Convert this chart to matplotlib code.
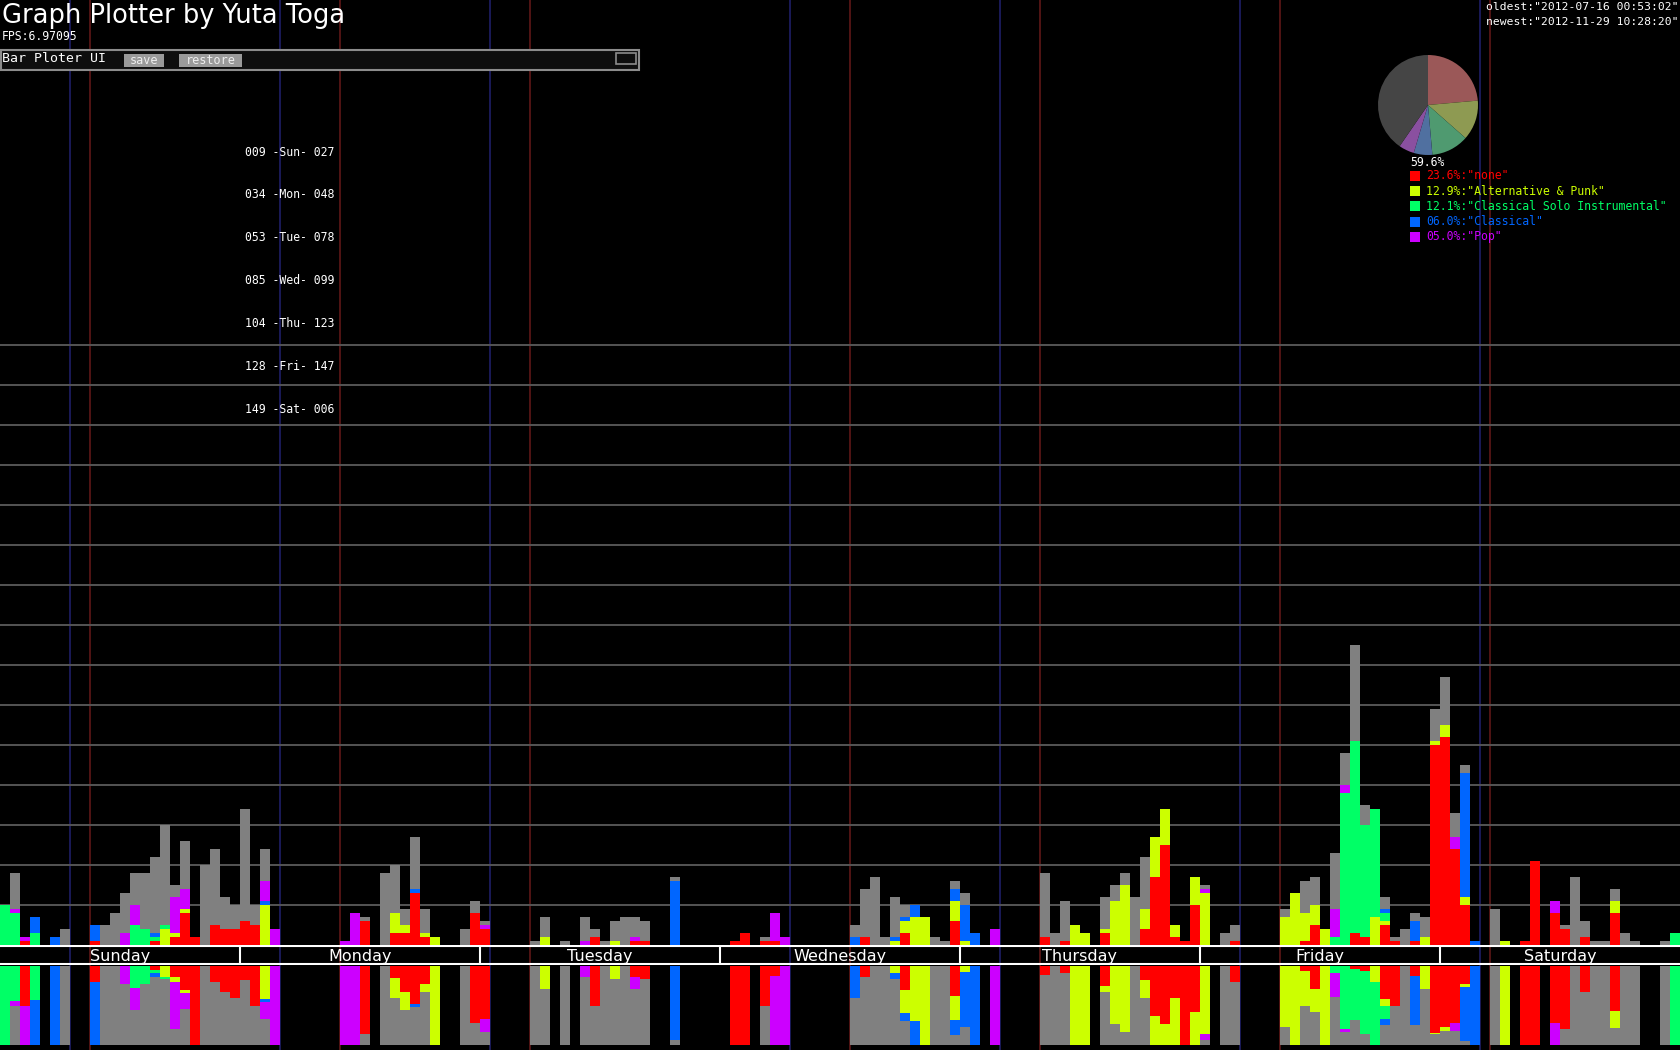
import matplotlib
matplotlib.use('Agg')
from matplotlib import pyplot
from matplotlib.patches import Rectangle
import numpy as np

W, H, DPI = 1680, 1050, 100

genres = ['none', 'Alternative & Punk', 'Classical Solo Instrumental', 'Classical', 'Pop']
genre_colors = ['#ff0000', '#ccff00', '#00ff66', '#0066ff', '#cc00ff']
other_color = '#808080'

pie_shares = [23.6, 12.9, 12.1, 6.0, 5.0, 40.4]
pie_colors = ['#9b5858', '#8e9a52', '#4f9a70', '#5070a0', '#8a50a0', '#454545']

days = ['Sunday', 'Monday', 'Tuesday', 'Wednesday', 'Thursday', 'Friday', 'Saturday']
day_abbr = ['Sun', 'Mon', 'Tue', 'Wed', 'Thu', 'Fri', 'Sat']
day_first = [9, 34, 53, 85, 104, 128, 149]
day_last = [27, 48, 78, 99, 123, 147, 6]

oldest = '2012-07-16 00:53:02'
newest = '2012-11-29 10:28:20'
fps = '6.97095'

# play counts per hour of the week, one row of 24 per day
none_counts = [
    [0, 0, 1, 0, 0, 0, 0, 0, 0, 1, 0, 0, 0, 0, 0, 1, 0, 2, 8, 2, 0, 5, 4, 4],
    [6, 5, 0, 0, 0, 0, 0, 0, 0, 0, 0, 0, 6, 0, 0, 3, 3, 13, 2, 0, 0, 0, 0, 8],
    [4, 0, 0, 0, 0, 0, 0, 0, 0, 0, 0, 2, 0, 0, 0, 1, 1, 0, 0, 0, 0, 0, 0, 0],
    [0, 1, 3, 0, 1, 1, 0, 0, 0, 0, 0, 0, 0, 0, 2, 0, 0, 0, 3, 0, 0, 0, 0, 6],
    [0, 0, 0, 0, 0, 0, 0, 0, 2, 0, 1, 0, 0, 0, 3, 0, 0, 0, 4, 17, 25, 2, 1, 10],
    [0, 0, 0, 1, 0, 0, 0, 0, 0, 0, 1, 5, 0, 0, 0, 3, 2, 0, 5, 1, 0, 1, 0, 50],
    [52, 24, 10, 0, 0, 0, 0, 0, 1, 21, 0, 8, 4, 0, 2, 0, 0, 8, 0, 0, 0, 0, 0, 0],
]
alt_counts = [
    [0, 0, 0, 0, 0, 0, 0, 0, 0, 0, 0, 0, 0, 0, 0, 0, 4, 1, 1, 0, 0, 0, 0, 0],
    [0, 0, 10, 0, 0, 0, 0, 0, 0, 0, 0, 0, 0, 0, 0, 5, 2, 0, 1, 2, 0, 0, 0, 0],
    [0, 0, 0, 0, 0, 0, 2, 0, 0, 0, 0, 0, 0, 1, 0, 0, 0, 0, 0, 0, 0, 0, 0, 0],
    [0, 0, 0, 0, 0, 0, 0, 0, 0, 0, 0, 0, 0, 0, 0, 0, 0, 1, 3, 7, 7, 0, 0, 5],
    [1, 0, 0, 0, 0, 0, 0, 0, 0, 0, 0, 5, 3, 0, 1, 11, 15, 0, 5, 10, 9, 3, 0, 7],
    [13, 0, 0, 0, 0, 0, 0, 0, 7, 13, 7, 5, 4, 0, 0, 0, 0, 7, 1, 0, 0, 0, 2, 1],
    [3, 0, 2, 0, 0, 0, 1, 0, 0, 0, 0, 0, 0, 0, 0, 0, 0, 3, 0, 0, 0, 0, 0, 0],
]
solo_counts = [
    [10, 8, 0, 3, 0, 0, 0, 0, 0, 0, 0, 0, 0, 5, 4, 1, 1, 0, 0, 0, 0, 0, 0, 0],
    [0] * 24,
    [0] * 24,
    [0] * 24,
    [0] * 24,
    [0, 0, 0, 0, 0, 0, 0, 0, 0, 0, 0, 0, 0, 2, 38, 48, 28, 27, 2, 0, 0, 0, 0, 0],
    [0, 0, 0, 0, 0, 0, 0, 0, 0, 0, 0, 0, 0, 0, 0, 0, 0, 0, 0, 0, 0, 0, 0, 3],
]
classical_counts = [
    [0, 0, 0, 4, 0, 2, 0, 0, 0, 4, 0, 0, 0, 0, 0, 1, 0, 0, 0, 0, 0, 0, 0, 0],
    [0, 0, 1, 0, 0, 0, 0, 0, 0, 0, 0, 0, 0, 0, 0, 0, 0, 1, 0, 0, 0, 0, 0, 0],
    [0, 0, 0, 0, 0, 0, 0, 0, 0, 0, 0, 0, 0, 0, 0, 0, 0, 0, 0, 16, 0, 0, 0, 0],
    [0, 0, 0, 0, 0, 0, 0, 0, 0, 0, 0, 0, 0, 2, 0, 0, 0, 1, 1, 3, 0, 0, 0, 3],
    [9, 3, 0, 0, 0, 0, 0, 0, 0, 0, 0, 0, 0, 0, 0, 0, 0, 0, 0, 0, 0, 0, 0, 0],
    [0, 0, 0, 0, 0, 0, 0, 0, 0, 0, 0, 0, 0, 0, 0, 0, 0, 0, 1, 0, 0, 5, 0, 0],
    [0, 0, 31, 1, 0, 0, 0, 0, 0, 0, 0, 0, 0, 0, 0, 0, 0, 0, 0, 0, 0, 0, 0, 0],
]
pop_counts = [
    [0, 1, 1, 0, 0, 0, 0, 0, 0, 0, 0, 0, 3, 5, 0, 0, 0, 9, 5, 0, 0, 0, 0, 0],
    [0, 0, 5, 4, 0, 0, 0, 0, 0, 0, 1, 8, 0, 0, 0, 0, 0, 0, 0, 0, 0, 0, 0, 0],
    [1, 0, 0, 0, 0, 0, 0, 0, 0, 0, 1, 0, 0, 0, 0, 1, 0, 0, 0, 0, 0, 0, 0, 0],
    [0, 0, 0, 0, 0, 7, 2, 0, 0, 0, 0, 0, 0, 0, 0, 0, 0, 0, 0, 0, 0, 0, 0, 0],
    [0, 0, 0, 4, 0, 0, 0, 0, 0, 0, 0, 0, 0, 0, 0, 0, 0, 0, 0, 0, 0, 0, 0, 0],
    [1, 0, 0, 0, 0, 0, 0, 0, 0, 0, 0, 0, 0, 7, 2, 0, 0, 0, 0, 0, 0, 0, 0, 0],
    [0, 3, 0, 0, 0, 0, 0, 0, 0, 0, 0, 3, 0, 0, 0, 0, 0, 0, 0, 0, 0, 0, 0, 0],
]
other_counts = [
    [0, 9, 0, 0, 0, 0, 4, 0, 0, 0, 5, 8, 10, 8, 14, 19, 25, 3, 12, 0, 20, 19, 8, 6],
    [28, 5, 8, 0, 0, 0, 0, 0, 0, 0, 0, 0, 1, 0, 18, 12, 4, 13, 6, 0, 0, 0, 4, 3],
    [1, 0, 0, 0, 0, 1, 5, 0, 1, 0, 6, 2, 1, 5, 7, 5, 5, 0, 0, 1, 0, 0, 0, 0],
    [0, 0, 0, 0, 1, 0, 0, 0, 0, 0, 0, 0, 0, 3, 12, 17, 2, 10, 3, 0, 0, 2, 1, 2],
    [3, 0, 0, 0, 0, 0, 0, 0, 16, 3, 10, 0, 0, 0, 8, 4, 3, 12, 13, 0, 0, 0, 0, 0],
    [1, 0, 3, 4, 0, 0, 0, 0, 2, 0, 8, 7, 0, 14, 8, 24, 5, 0, 3, 1, 4, 2, 5, 8],
    [12, 6, 2, 0, 0, 9, 0, 0, 0, 0, 0, 0, 1, 17, 4, 1, 1, 3, 3, 1, 0, 0, 1, 0],
]

PX_PER_PLAY = 4
BASE_Y = 945
MONO = 'DejaVu Sans Mono'


def fx(x):
    return x / W


def fy(y):
    return 1 - y / H


def axes_px(fig, left, top, width, height):
    ax = fig.add_axes([left / W, 1 - (top + height) / H, width / W, height / H])
    ax.set_facecolor('none')
    for s in ax.spines.values():
        s.set_visible(False)
    ax.set_xticks([])
    ax.set_yticks([])
    return ax


stack = np.array([np.ravel(none_counts), np.ravel(alt_counts), np.ravel(solo_counts),
                  np.ravel(classical_counts), np.ravel(pop_counts), np.ravel(other_counts)], dtype=float)
colors = genre_colors + [other_color]
n_hours = stack.shape[1]
hours = np.arange(n_hours)
totals = stack.sum(axis=0)

fig = pyplot.figure(figsize=(W / DPI, H / DPI), dpi=DPI, facecolor='black')

# background: day marker lines through the whole picture
bg = axes_px(fig, 0, 0, W, H)
bg.set_facecolor('black')
bg.set_xlim(0, n_hours)
bg.set_ylim(0, 1)
for a in day_first:
    bg.axvline(a, color='#521414', lw=1.4)
for b in day_last:
    bg.axvline(b + 1, color='#1a1a58', lw=1.4)

# main stacked bars
top = axes_px(fig, 0, 0, W, BASE_Y)
top.set_xlim(0, n_hours)
top.set_ylim(0, BASE_Y / PX_PER_PLAY)
top.set_yticks(np.arange(10, 151, 10))
top.tick_params(length=0, labelleft=False)
top.grid(axis='y', color='#555555', lw=1.4)
top.set_axisbelow(True)
bottom = np.zeros(n_hours)
for counts, c in zip(stack, colors):
    top.bar(hours, counts, width=1, bottom=bottom, align='edge', color=c, lw=0, zorder=2)
    bottom += counts

# day band
band = axes_px(fig, 0, BASE_Y, W, 20)
band.set_xlim(0, n_hours)
band.set_ylim(0, 1)
band.axhline(0.05, color='white', lw=1.5)
band.axhline(0.95, color='white', lw=1.5)
band.vlines(np.arange(24, n_hours, 24), 0, 1, color='white', lw=1.5)
for d, name in enumerate(days):
    band.text(24 * d + 12, 0.45, name, color='white', ha='center', va='center',
              fontsize=11.5, family='DejaVu Sans')

# normalised share per hour
low = axes_px(fig, 0, 966, W, 79)
low.set_xlim(0, n_hours)
low.set_ylim(1, 0)
share = np.divide(stack, totals, out=np.zeros_like(stack), where=totals > 0)
bottom = np.zeros(n_hours)
for frac, c in zip(share, colors):
    low.bar(hours, frac, width=1, bottom=bottom, align='edge', color=c, lw=0, zorder=2)
    bottom += frac

# header texts
fig.text(fx(2), fy(16), 'Graph Plotter by Yuta Toga', color='white', fontsize=18.5,
         va='center', ha='left', family='DejaVu Sans')
fig.text(fx(2), fy(36), 'FPS:' + fps, color='white', fontsize=8.3, va='center', family=MONO)
fig.text(fx(1678), fy(7), 'oldest:"%s"' % oldest, color='white', fontsize=8.2,
         va='center', ha='right', family=MONO)
fig.text(fx(1678), fy(22), 'newest:"%s"' % newest, color='white', fontsize=8.2,
         va='center', ha='right', family=MONO)

# ui panel
fig.patches.append(Rectangle((fx(1), fy(70)), 638 / W, 20 / H, transform=fig.transFigure,
                             fc='#0e0e0e', ec='#8c8c8c', lw=1.5))
fig.text(fx(2), fy(59), 'Bar Ploter UI', color='white', fontsize=9.5, va='center', family=MONO)
for label, x0, x1 in [('save', 124, 164), ('restore', 179, 242)]:
    fig.patches.append(Rectangle((fx(x0), fy(67)), (x1 - x0) / W, 13 / H,
                                 transform=fig.transFigure, fc='#9a9a9a', lw=0))
    fig.text(fx((x0 + x1) / 2), fy(60), label, color='#eeeeee', fontsize=8.5,
             va='center', ha='center', family=MONO)
fig.patches.append(Rectangle((fx(616), fy(64)), 20 / W, 11 / H, transform=fig.transFigure,
                             fc='none', ec='#8c8c8c', lw=1.2))

# day list
for d in range(7):
    fig.text(fx(245), fy(152 + 42.9 * d),
             '%03d -%s- %03d' % (day_first[d], day_abbr[d], day_last[d]),
             color='white', fontsize=8.3, va='center', family=MONO)

# pie and legend
pie_ax = axes_px(fig, 1378, 55, 100, 100)
pie_ax.pie(pie_shares, colors=pie_colors, startangle=90, counterclock=False,
           wedgeprops=dict(linewidth=0))
pie_ax.set_xlim(-1, 1)
pie_ax.set_ylim(-1, 1)
fig.text(fx(1410), fy(162), '%.1f%%' % sum(pie_shares[:5]), color='white',
         fontsize=8.3, va='center', family=MONO)
for i, (g, s, c) in enumerate(zip(genres, pie_shares, genre_colors)):
    y = 176 + 15.2 * i
    fig.patches.append(Rectangle((fx(1410), fy(y + 5)), 10 / W, 10 / H,
                                 transform=fig.transFigure, fc=c, lw=0))
    fig.text(fx(1426), fy(y), '%04.1f%%:"%s"' % (s, g), color=c, fontsize=8.3,
             va='center', family=MONO)

fig.savefig('out.png', dpi=DPI, facecolor='black')
